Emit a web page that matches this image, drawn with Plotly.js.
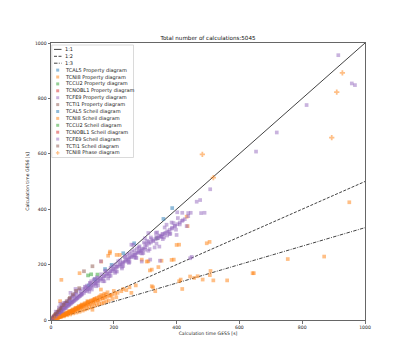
<!DOCTYPE html>
<html><head><meta charset="utf-8">
<script src="https://cdn.plot.ly/plotly-3.0.1.min.js"></script>
<style>html,body{margin:0;padding:0;background:#fff}#chart{width:406px;height:360px}</style>
</head><body><div id="chart"></div>
<script>
// ---------- data ----------
const titleText = "Total number of calculations:5045";
const xTitle = "Calculation time GES5 [s]";
const yTitle = "Calculation time GES6 [s]";
const tickVals = [0, 200, 400, 600, 800, 1000];
const refLabels = ["1:1", "1:2", "1:3"];
const refX = [0, 1000];
const ref11Y = [0, 1000];
const ref12Y = [0, 500];
const ref13Y = [0, 333.3];

const seriesNames = ["TCAL5 Property diagram","TCNI8 Property diagram","TCCU2 Property diagram","TCNOBL1 Property diagram","TCFE9 Property diagram","TCTI1 Property diagram","TCAL5 Scheil diagram","TCNI8 Scheil diagram","TCCU2 Scheil diagram","TCNOBL1 Scheil diagram","TCFE9 Scheil diagram","TCTI1 Scheil diagram","TCNI8 Phase diagram"];

const tcal5PropX = [10, 30, 18];
const tcal5PropY = [11, 33, 20];
const tcni8PropX = [20, 40, 28, 55, 70, 9, 14, 33, 48, 62];
const tcni8PropY = [8, 16, 12, 24, 30, 5, 7, 17, 20, 28];
const tccu2PropX = [50, 36];
const tccu2PropY = [60, 44];
const tcnobl1PropX = [45, 24];
const tcnobl1PropY = [58, 30];
const tcfe9PropX = [4, 9, 16, 23, 33, 44, 57, 66, 82, 96, 118, 142, 52, 74, 108, 128];
const tcfe9PropY = [5, 10, 17, 24, 33, 45, 58, 65, 80, 94, 112, 135, 62, 86, 120, 140];
const tcti1PropX = [12, 22, 34, 46, 58];
const tcti1PropY = [18, 30, 46, 62, 76];

const tcal5ScheilX = [172, 193, 230, 265, 358, 386, 120, 140, 60];
const tcal5ScheilY = [184, 199, 241, 277, 365, 404, 125, 147, 64];

const tcni8ScheilX = [3,5,6,8,10,12,14,15,17,19,20,22,24,25,27,29,30,32,34,35,37,39,40,42,44,45,47,49,50,52,54,55,57,59,60,62,64,65,67,69,70,72,74,75,77,79,80,82,84,85,87,89,90,92,94,95,97,99,100,103,106,110,113,116,120,124,128,132,136,140,145,150,155,160,165,170,180,190,200,
  137,116,132,159,224,230,240,256,250,270,321,332,325,408,413,418,456,467,483,506,508,517,561,642,646,754,870,950,505,443,315,342,305,352,384,400,496,408,391,289,310,321,
  29,33,91,160,187,182,219,188,209,432,435,
  18,26,36,46,56,66,76,86,96,104,112,118,126,134,142,148,156,164,172,178,186,194,204,212,
  21,31,41,51,61,71,81,91,101,108,115,122,130,138,146,153,162,168,176,184,196,208,
  16,28,38,48,58,68,78,88,98,107,117,127,139,152,166,175];
const tcni8ScheilY = [1,2,3,3,4,5,5,7,7,8,9,9,10,12,11,13,14,13,15,17,16,18,19,18,20,22,21,23,25,22,26,28,25,29,30,27,31,33,30,34,36,32,37,39,35,40,42,38,43,45,40,46,48,42,49,52,45,51,55,48,56,60,52,62,66,57,68,72,62,75,80,70,85,90,78,95,100,88,105,
  74,68,37,110,104,112,108,98,118,125,122,104,118,140,146,112,152,158,146,162,177,143,143,169,169,220,229,425,282,157,179,191,211,214,217,271,277,272,218,218,212,182,
  68,145,169,211,241,232,235,247,235,373,339,
  10,13,18,23,27,32,37,41,46,50,54,57,61,64,68,71,74,78,81,84,88,91,95,98,
  6,10,13,17,20,24,27,30,34,38,41,45,48,51,55,58,60,63,67,70,76,82,
  11,16,22,27,33,38,44,50,56,60,65,70,76,82,88,92];

const tccu2ScheilX = [118, 128, 148, 337];
const tccu2ScheilY = [161, 165, 164, 295];
const tcnobl1ScheilX = [8, 15, 25, 35];
const tcnobl1ScheilY = [12, 20, 30, 45];

const tcfe9ScheilX = [3,5,6,8,10,12,14,15,18,20,22,24,26,28,30,32,35,37,40,42,45,48,50,53,55,58,60,63,65,68,70,73,75,78,80,83,85,88,90,93,95,98,100,
  20,30,40,50,35,25,60,70,15,45,55,65,80,90,75,40,30,78,62,
  105,110,115,120,125,130,135,140,145,150,155,160,165,170,175,180,185,190,195,200,205,210,215,220,225,230,235,240,245,250,255,260,265,270,275,280,285,290,295,300,
  110,125,140,160,175,150,190,205,220,235,250,265,280,300,310,320,325,335,340,345,350,355,360,365,370,375,380,
  130,150,170,190,210,230,250,270,290,310,330,345,352,347,316,289,443,448,
  159,262,256,299,310,390,400,385,395,410,420,432,437,402,418,437,445,464,475,489,478,507,653,719,814,915,958,968,
  305,312,318,326,333,340,348,356,362,370,378,386,394,402,410,417,426,
  108,118,128,138,148,158,168,178,188,198,208,218,228,238,248,258,268,278,288,
  36,48,58,68,82,94,102,114,124,136,146,
  122,144,166,186,206,226,246,266,286,300,
  172,196,214,236,258,282,296,318,338,362,384,404,
  182,204,226,248,272,294,314,336,356,378,398,
  244,274,306,334,368];
const tcfe9ScheilY = [4,6,5,9,10,11,14,13,17,19,22,21,25,27,29,30,34,33,38,41,43,44,48,50,53,54,58,59,62,64,67,68,72,73,76,78,81,82,86,87,90,92,95,
  28,40,52,64,55,45,75,88,30,60,70,84,100,110,95,61,58,112,98,
  98,104,106,112,115,121,124,130,133,139,142,148,150,157,160,166,168,175,177,183,186,192,194,200,203,208,211,217,219,225,227,233,235,240,243,248,250,256,258,263,
  118,132,148,165,178,152,188,200,215,228,240,252,262,275,282,292,285,300,295,305,300,310,298,315,305,318,312,
  110,125,140,160,175,195,210,225,240,250,262,265,301,214,218,211,223,228,
  212,271,272,295,314,350,307,330,340,345,360,339,375,389,387,386,387,427,433,387,386,472,608,677,776,956,854,848,
  270,276,280,287,292,296,303,310,312,320,326,333,338,346,352,358,364,
  110,118,126,134,142,150,160,168,176,184,192,200,207,214,222,230,236,244,252,
  42,56,66,78,92,104,112,124,134,146,154,
  102,122,140,158,175,192,210,226,242,254,
  176,194,212,228,246,266,280,298,316,334,352,368,
  150,170,186,206,224,242,256,276,292,310,326,
  236,258,286,314,344];

const tcti1ScheilX = [5,10,15,20,25,30,40,50,60,70,80,90,105,132];
const tcti1ScheilY = [8,15,22,28,35,42,55,68,80,92,105,115,176,194];

const tcni8PhaseX = [928, 910, 894, 482, 517, 12, 26];
const tcni8PhaseY = [892, 823, 658, 598, 514, 6, 11];

// ---------- styling ----------
const blue = "#1f77b4", orange = "#ff7f0e", green = "#2ca02c", red = "#d62728", purple = "#9467bd", brown = "#8c564b";
const seriesX = [tcal5PropX,tcni8PropX,tccu2PropX,tcnobl1PropX,tcfe9PropX,tcti1PropX,tcal5ScheilX,tcni8ScheilX,tccu2ScheilX,tcnobl1ScheilX,tcfe9ScheilX,tcti1ScheilX,tcni8PhaseX];
const seriesY = [tcal5PropY,tcni8PropY,tccu2PropY,tcnobl1PropY,tcfe9PropY,tcti1PropY,tcal5ScheilY,tcni8ScheilY,tccu2ScheilY,tcnobl1ScheilY,tcfe9ScheilY,tcti1ScheilY,tcni8PhaseY];
const seriesColors = [blue,orange,green,red,purple,brown,blue,orange,green,red,purple,brown,orange];
const seriesSymbols = ["square","square","square","square","square","square","square","square","square","square","square","square","cross"];

const traces = [];
const refYs = [ref11Y, ref12Y, ref13Y];
const refDash = ["solid", "3px,1.5px", "3.5px,1.3px,0.9px,1.3px"];
refYs.forEach((ry, i) => traces.push({x: refX, y: ry, mode: "lines", type: "scatter", name: refLabels[i],
  line: {color: "#111", width: 0.8, dash: refDash[i]}, showlegend: false, hoverinfo: "skip"}));
seriesNames.forEach((nm, i) => traces.push({x: seriesX[i], y: seriesY[i], mode: "markers", type: "scatter", name: nm,
  marker: {color: seriesColors[i], symbol: seriesSymbols[i], size: seriesSymbols[i] === "cross" ? 4.4 : 3.7, opacity: 0.5, line: {width: 0}},
  showlegend: false}));

// ---------- manual legend (paper coords) ----------
const L = 51, T = 43, W = 314, H = 277;
const px2x = p => (p - L) / W;
const py2y = p => (T + H - p) / H;
const shapes = [];
const annotations = [];
shapes.push({type: "rect", xref: "paper", yref: "paper", x0: px2x(51.8), x1: px2x(133.5), y0: py2y(157.5), y1: py2y(45),
  line: {color: "#d0d0d0", width: 0.8}, fillcolor: "rgba(255,255,255,0.8)", layer: "above"});
const rowTop = 49.4, rowStep = 6.9;
const allLabels = refLabels.concat(seriesNames);
allLabels.forEach((lab, i) => {
  const py = rowTop + i * rowStep;
  if (i < 3) {
    shapes.push({type: "line", xref: "paper", yref: "paper", x0: px2x(54), x1: px2x(61.5), y0: py2y(py), y1: py2y(py),
      line: {color: "#111", width: 0.8, dash: refDash[i]}, layer: "above"});
  } else {
    const k = i - 3;
    const c = seriesColors[k];
    if (seriesSymbols[k] === "cross") {
      const cx = 57.7, cy = py, a = 0.6, b = 1.8;
      const pts = [[cx-a,cy-b],[cx+a,cy-b],[cx+a,cy-a],[cx+b,cy-a],[cx+b,cy+a],[cx+a,cy+a],[cx+a,cy+b],[cx-a,cy+b],[cx-a,cy+a],[cx-b,cy+a],[cx-b,cy-a],[cx-a,cy-a]];
      const path = "M" + pts.map(p => px2x(p[0]).toFixed(5) + "," + py2y(p[1]).toFixed(5)).join("L") + "Z";
      shapes.push({type: "path", xref: "paper", yref: "paper", path: path, fillcolor: c, opacity: 0.5, line: {width: 0}, layer: "above"});
    } else {
      shapes.push({type: "rect", xref: "paper", yref: "paper", x0: px2x(56.2), x1: px2x(59.2), y0: py2y(py + 1.5), y1: py2y(py - 1.5),
        fillcolor: c, opacity: 0.5, line: {width: 0}, layer: "above"});
    }
  }
  annotations.push({xref: "paper", yref: "paper", x: px2x(63.2), y: py2y(py), xanchor: "left", yanchor: "middle",
    text: lab, showarrow: false, font: {size: 5, color: "#222", family: "DejaVu Sans"}});
});

const axisCommon = {range: [0, 1000], tickvals: tickVals, ticktext: tickVals.map(String), ticks: "outside", ticklen: 2.5, tickwidth: 0.7,
  tickcolor: "#333", tickfont: {size: 4.6, color: "#222", family: "DejaVu Sans"}, showline: true, mirror: true, linecolor: "#666", linewidth: 1,
  showgrid: false, zeroline: false, automargin: false};

const layout = {
  width: 406, height: 360,
  margin: {l: L, r: 406 - L - W, t: T, b: 360 - T - H, pad: 0},
  paper_bgcolor: "#fff", plot_bgcolor: "#fff",
  font: {family: "DejaVu Sans", color: "#222"},
  title: {text: titleText, font: {size: 5.6, color: "#111", family: "DejaVu Sans"}, x: 208 / 406, xref: "container", xanchor: "center", yref: "container", y: 1 - 38.5 / 360, yanchor: "middle"},
  xaxis: Object.assign({}, axisCommon, {title: {text: xTitle, font: {size: 4.6, color: "#222", family: "DejaVu Sans"}, standoff: 2}}),
  yaxis: Object.assign({}, axisCommon, {title: {text: yTitle, font: {size: 4.6, color: "#222", family: "DejaVu Sans"}, standoff: 5}}),
  showlegend: false,
  shapes: shapes,
  annotations: annotations
};
Plotly.newPlot("chart", traces, layout, {displayModeBar: false, staticPlot: true});
</script></body></html>
